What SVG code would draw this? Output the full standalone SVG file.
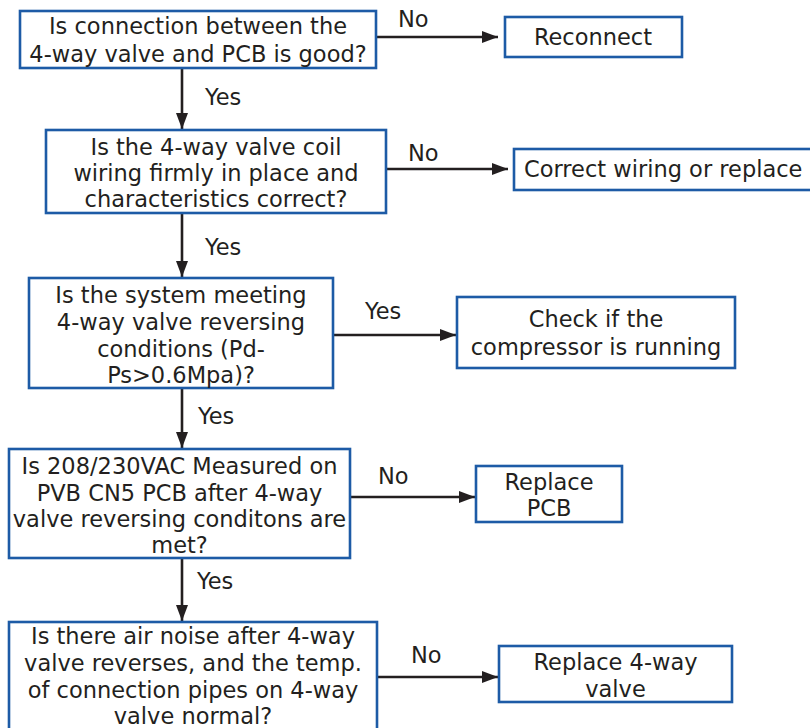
<svg xmlns="http://www.w3.org/2000/svg" width="810" height="728" viewBox="0 0 810 728">
<style>
.box{fill:#fff;stroke:#1d5ba6;stroke-width:2.6}
text{font-family:"DejaVu Sans","Noto Sans",sans-serif;font-size:22.5px;fill:#231f20}
.c{text-anchor:middle}
.ln{stroke:#231f20;stroke-width:2.6;fill:none}
</style>
<defs>
<marker id="a" viewBox="0 0 16 12" refX="16" refY="6" markerWidth="16" markerHeight="12" markerUnits="userSpaceOnUse" orient="auto">
<path d="M0,0 L16,6 L0,12 Z" fill="#231f20"/>
</marker>
</defs>
<rect width="810" height="728" fill="#fff"/>
<g id="connectors">
<line class="ln" x1="376" y1="37" x2="498" y2="37" marker-end="url(#a)"/>
<text x="398" y="27">No</text>
<line class="ln" x1="182" y1="68" x2="182" y2="129" marker-end="url(#a)"/>
<text x="205" y="105">Yes</text>
<line class="ln" x1="386" y1="169" x2="508" y2="169" marker-end="url(#a)"/>
<text x="408" y="161">No</text>
<line class="ln" x1="182" y1="213" x2="182" y2="277" marker-end="url(#a)"/>
<text x="205" y="255">Yes</text>
<line class="ln" x1="333" y1="335" x2="456" y2="335" marker-end="url(#a)"/>
<text x="365" y="319">Yes</text>
<line class="ln" x1="182" y1="388" x2="182" y2="448" marker-end="url(#a)"/>
<text x="198" y="424">Yes</text>
<line class="ln" x1="350" y1="497" x2="475" y2="497" marker-end="url(#a)"/>
<text x="378" y="484">No</text>
<line class="ln" x1="182" y1="558" x2="182" y2="621" marker-end="url(#a)"/>
<text x="197" y="589">Yes</text>
<line class="ln" x1="377" y1="677" x2="498" y2="677" marker-end="url(#a)"/>
<text x="411" y="663">No</text>
</g>
<g id="n1">
<rect class="box" x="20" y="11" width="356" height="57"/>
<text class="c" x="198" y="34">Is connection between the</text>
<text class="c" x="198" y="62">4-way valve and PCB is good?</text>
</g>
<g id="n2">
<rect class="box" x="505" y="17" width="177" height="40"/>
<text class="c" x="593" y="45">Reconnect</text>
</g>
<g id="n3">
<rect class="box" x="46" y="130" width="340" height="83"/>
<text class="c" x="216" y="155">Is the 4-way valve coil</text>
<text class="c" x="216" y="181">wiring firmly in place and</text>
<text class="c" x="216" y="207">characteristics correct?</text>
</g>
<g id="n4">
<rect class="box" x="514" y="149" width="300" height="41"/>
<text x="524" y="177">Correct wiring or replace</text>
</g>
<g id="n5">
<rect class="box" x="29" y="278" width="304" height="110"/>
<text class="c" x="181" y="303">Is the system meeting</text>
<text class="c" x="181" y="330">4-way valve reversing</text>
<text class="c" x="181" y="357">conditions (Pd-</text>
<text class="c" x="181" y="383">Ps&gt;0.6Mpa)?</text>
</g>
<g id="n6">
<rect class="box" x="457" y="297" width="278" height="71"/>
<text class="c" x="596" y="327">Check if the</text>
<text class="c" x="596" y="355">compressor is running</text>
</g>
<g id="n7">
<rect class="box" x="9" y="449" width="341" height="109"/>
<text class="c" x="179.5" y="474">Is 208/230VAC Measured on</text>
<text class="c" x="179.5" y="501">PVB CN5 PCB after 4-way</text>
<text class="c" x="179.5" y="527">valve reversing conditons are</text>
<text class="c" x="179.5" y="553">met?</text>
</g>
<g id="n8">
<rect class="box" x="476" y="466" width="146" height="56"/>
<text class="c" x="549" y="490">Replace</text>
<text class="c" x="549" y="516">PCB</text>
</g>
<g id="n9">
<rect class="box" x="9" y="622" width="368" height="120"/>
<text class="c" x="193" y="644">Is there air noise after 4-way</text>
<text class="c" x="193" y="671">valve reverses, and the temp.</text>
<text class="c" x="193" y="698">of connection pipes on 4-way</text>
<text class="c" x="193" y="724">valve normal?</text>
</g>
<g id="n10">
<rect class="box" x="499" y="646" width="233" height="56"/>
<text class="c" x="615.5" y="670">Replace 4-way</text>
<text class="c" x="615.5" y="697">valve</text>
</g>
</svg>
